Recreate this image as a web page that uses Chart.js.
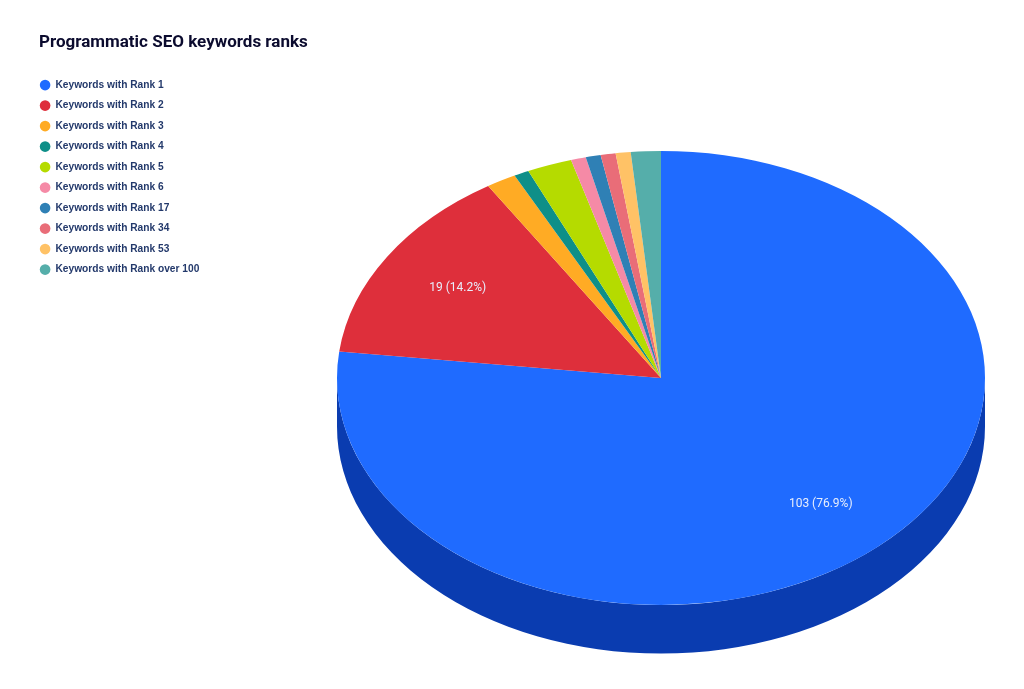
<!DOCTYPE html>
<html>
<head>
<meta charset="utf-8">
<title>Programmatic SEO keywords ranks</title>
<script src="https://cdn.jsdelivr.net/npm/chart.js@4"></script>
<style>
  html, body { margin: 0; padding: 0; background: #fff; }
  #wrap { width: 1024px; height: 689px; position: relative; }
</style>
</head>
<body>
<div id="wrap"><canvas id="chart"></canvas></div>
<script>
const categories = [
  'Keywords with Rank 1', 'Keywords with Rank 2', 'Keywords with Rank 3', 'Keywords with Rank 4',
  'Keywords with Rank 5', 'Keywords with Rank 6', 'Keywords with Rank 17', 'Keywords with Rank 34',
  'Keywords with Rank 53', 'Keywords with Rank over 100'
];
const keywordCounts = [103, 19, 2, 1, 3, 1, 1, 1, 1, 2];
const sliceColors = ['#1f6bff', '#de2f3b', '#ffab24', '#0e8f88', '#b5db00', '#f58aa6', '#2f80b5', '#e96d78', '#ffc266', '#55aeaa'];
const sideColors = ['#0a3cb0', '#9c1f29', '#b87a14', '#08635e', '#7f9a00', '#ab6075', '#1f597f', '#a34c54', '#b38847', '#3b7a77'];

const xStretch = 324 / 227;  // pie is drawn as a tilted ellipse
const depth = 48.5;
const minLabelShare = 0.1;

const tiltedPie = {
  id: 'tiltedPie',
  beforeDraw(chart) {
    // title and legend sit in the top left, away from the pie
    chart.titleBlock.left = 39;
    chart.titleBlock.right = 400;
    chart.legend.left = 29.5;
    chart.legend.top = 69.7;
  },
  beforeDatasetsDraw(chart) {
    const ctx = chart.ctx;
    const arcs = chart.getDatasetMeta(0).data;
    arcs.forEach((arc, i) => {
      const from = Math.max(arc.startAngle, 0);
      const to = Math.min(arc.endAngle, Math.PI);
      if (to <= from) return;
      const rx = arc.outerRadius * xStretch;
      const ry = arc.outerRadius;
      ctx.beginPath();
      ctx.ellipse(arc.x, arc.y, rx, ry, 0, from, to);
      ctx.ellipse(arc.x, arc.y + depth, rx, ry, 0, to, from, true);
      ctx.closePath();
      ctx.fillStyle = sideColors[i];
      ctx.fill();
    });
    const first = arcs[0];
    ctx.save();
    ctx.translate(first.x, first.y);
    ctx.scale(xStretch, 1);
    ctx.translate(-first.x, -first.y);
  },
  afterDatasetsDraw(chart) {
    const ctx = chart.ctx;
    ctx.restore();
    const total = keywordCounts.reduce((a, b) => a + b, 0);
    ctx.save();
    ctx.font = '400 12px Roboto';
    ctx.fillStyle = '#e8eefc';
    ctx.textAlign = 'center';
    ctx.textBaseline = 'middle';
    chart.getDatasetMeta(0).data.forEach((arc, i) => {
      const share = keywordCounts[i] / total;
      if (share < minLabelShare) return;
      const mid = (arc.startAngle + arc.endAngle) / 2;
      const r = arc.outerRadius * 0.742;
      const text = keywordCounts[i] + ' (' + (share * 100).toFixed(1) + '%)';
      ctx.fillText(text, arc.x + Math.cos(mid) * r * xStretch, arc.y + Math.sin(mid) * r);
    });
    ctx.restore();
  }
};

new Chart(document.getElementById('chart'), {
  type: 'pie',
  data: {
    labels: categories,
    datasets: [{
      data: keywordCounts,
      backgroundColor: sliceColors,
      borderWidth: 0
    }]
  },
  options: {
    responsive: true,
    maintainAspectRatio: false,
    animation: false,
    layout: { padding: { left: 337, right: 39, top: 0, bottom: 84 } },
    plugins: {
      title: {
        display: true,
        text: 'Programmatic SEO keywords ranks',
        align: 'start',
        color: '#0b0b2e',
        font: { family: 'Roboto', size: 17, weight: '700' },
        padding: { top: 33, bottom: 97.6 }
      },
      legend: {
        position: 'chartArea',
        align: 'start',
        labels: {
          usePointStyle: true,
          pointStyle: 'circle',
          boxWidth: 10.6,
          boxHeight: 7.5,
          pointStyleWidth: 10.6,
          padding: 10.3,
          color: '#23396b',
          font: { family: 'Liberation Sans', size: 10.2, weight: '700' }
        }
      },
      tooltip: { enabled: false }
    }
  },
  plugins: [tiltedPie]
});
</script>
</body>
</html>
